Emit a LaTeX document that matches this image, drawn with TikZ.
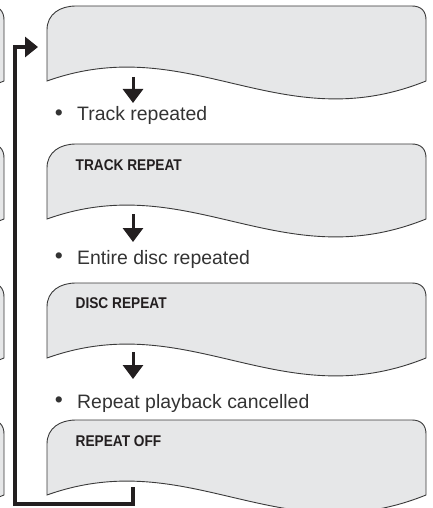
\documentclass[tikz,border=0pt]{standalone}
\usepackage{fontspec}
\setmainfont{Liberation Sans}
\usetikzlibrary{arrows.meta}
\definecolor{panelfill}{HTML}{E6E7E8}
\definecolor{panelline}{HTML}{3A3A3A}
\definecolor{inkdark}{HTML}{231F20}
\definecolor{textgray}{HTML}{333333}
\tikzset{
  panelshape/.style={fill=panelfill, draw=panelline, line width=0.9bp},
  panel/.pic={
    \path[panelshape] (47,75) -- (47,24) .. controls (47,8) and (60,0) .. (76,0)
      -- (412,0) .. controls (421,0) and (426,5) .. (426,14) -- (426,75)
      .. controls (280,134) and (190,24) .. (47,75) -- cycle;
  },
  steparrow/.style={draw=inkdark, line width=3bp, -{Triangle[length=14bp,width=20bp]}},
  looparrow/.style={draw=inkdark, line width=3.5bp, line join=miter, -{Triangle[length=13bp,width=20bp]}},
  infotext/.style={anchor=base west, inner sep=0, text=textgray, font=\fontsize{19.5}{22}\selectfont},
  bulletmark/.style={anchor=center, inner sep=0, text=textgray, font=\fontsize{23}{23}\selectfont},
  paneltext/.style={anchor=base west, inner sep=0, text=inkdark, font=\bfseries\fontsize{15.6}{17}\selectfont},
}
\begin{document}
\begin{tikzpicture}[x=1bp, y=-1bp]
\useasboundingbox (0,0) rectangle (432,508);
\clip (0,0) rectangle (432,508);
% partial panels of the previous column
\pic at (-422,6) {panel};
\pic at (-422,144) {panel};
\pic at (-422,283) {panel};
\pic at (-422,420) {panel};
% main panels
\pic at (0,6) {panel};
\pic at (0,144) {panel};
\pic at (0,283) {panel};
\pic at (0,420) {panel};
% panel labels
\node[paneltext] (l2) at (75.5,171) {\scalebox{0.88}[1]{TRACK REPEAT}};
\node[paneltext] (l3) at (75.5,308) {\scalebox{0.88}[1]{DISC REPEAT}};
\node[paneltext] (l4) at (75.5,446) {\scalebox{0.88}[1]{REPEAT OFF}};
% step arrows
\coordinate (a1s) at (133,77);  \coordinate (a1e) at (133,103);
\coordinate (a2s) at (133,214); \coordinate (a2e) at (133,242);
\coordinate (a3s) at (133,352); \coordinate (a3e) at (133,379);
\draw[steparrow] (a1s) -- (a1e);
\draw[steparrow] (a2s) -- (a2e);
\draw[steparrow] (a3s) -- (a3e);
% bullet texts
\node[bulletmark] (b1) at (59,115) {•};
\node[infotext] (t1) at (77,121) {Track repeated};
\node[bulletmark] (b2) at (59,258) {•};
\node[infotext] (t2) at (77,264) {Entire disc repeated};
\node[bulletmark] (b3) at (59,402) {•};
\node[infotext] (t3) at (77,408) {Repeat playback cancelled};
% loop back connector
\coordinate (ls) at (133,487);
\coordinate (lc) at (15,504);
\coordinate (le) at (38,47);
\draw[looparrow] (ls) |- (lc) |- (le);
\end{tikzpicture}
\end{document}
